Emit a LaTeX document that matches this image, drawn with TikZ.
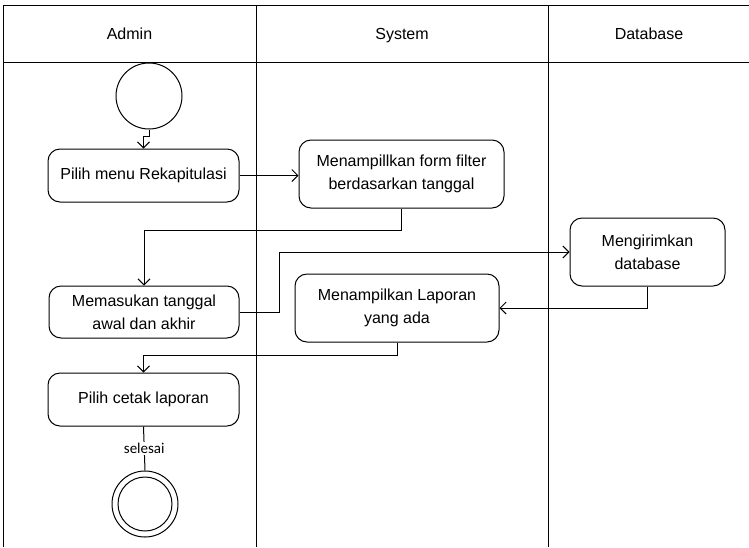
\documentclass[tikz,border=0pt]{standalone}
\usepackage{fontspec}
\setmainfont{Liberation Sans}
\newfontfamily\lblfont{Carlito}
\usetikzlibrary{arrows.meta}
\tikzset{
  act/.style={draw, line width=1pt, rounded corners=12pt, align=center, inner sep=0pt,
    font=\fontsize{16}{23}\selectfont},
  arr/.style={line width=1pt, -{Straight Barb[length=6pt,width=12pt,line width=1pt]}},
  lane/.style={line width=1pt},
  hdr/.style={font=\fontsize{16}{19}\selectfont, anchor=base},
}
\begin{document}
\begin{tikzpicture}[x=1pt,y=-1pt]
\useasboundingbox (0,0) rectangle (749,547);
% swimlane frame
\draw[lane] (3,547) -- (3,5) -- (749,5);
\draw[lane] (3,62) -- (749,62);
\draw[lane] (256,5) -- (256,547);
\draw[lane] (548,5) -- (548,547);
\node[hdr] (hA) at (129.5,39) {Admin};
\node[hdr] (hS) at (402,39) {System};
\node[hdr] (hD) at (649,39) {Database};
% start / end
\node[draw, circle, line width=1pt, minimum size=66pt, inner sep=0pt] (start) at (149,96) {};
\node[draw, circle, line width=1pt, minimum size=66pt, inner sep=0pt] (end) at (145,504) {};
\node[draw, circle, line width=1pt, minimum size=54pt, inner sep=0pt] (endin) at (145,504) {};
% activities
\node[act, minimum width=191pt, minimum height=53pt] (pm) at (143.5,175.5) {Pilih menu Rekapitulasi};
\node[act, minimum width=205pt, minimum height=68pt] (ff) at (401.5,174) {Menampillkan form filter\\berdasarkan tanggal};
\node[act, minimum width=190pt, minimum height=52pt] (mt) at (144,312) {Memasukan tanggal\\awal dan akhir};
\node[act, minimum width=155pt, minimum height=68pt] (mg) at (647.5,252) {Mengirimkan\\database};
\node[act, minimum width=204pt, minimum height=68pt] (ml) at (397,308) {Menampilkan Laporan\\yang ada};
\node[act, minimum width=191pt, minimum height=53pt] (pc) at (143.5,399.5) {Pilih cetak laporan};
% connectors
\draw[arr] (start.south) -- ++(0,7) -| (pm.north);
\draw[arr] (pm.east) -- (pm.east -| ff.west);
\draw[arr] (ff.south) -- ++(0,22) -| (mt.north);
\draw[arr] (mt.east) -- ++(40,0) |- (mg.west);
\draw[arr] (mg.south) |- (ml.east);
\draw[arr] (ml.south) -- ++(0,13) -| (pc.north);
\draw[line width=1pt] (pc.south) -- node[fill=white, inner sep=1pt, font=\lblfont\fontsize{15}{17}\selectfont] (lbl) {selesai} (end.north);
\end{tikzpicture}
\end{document}
